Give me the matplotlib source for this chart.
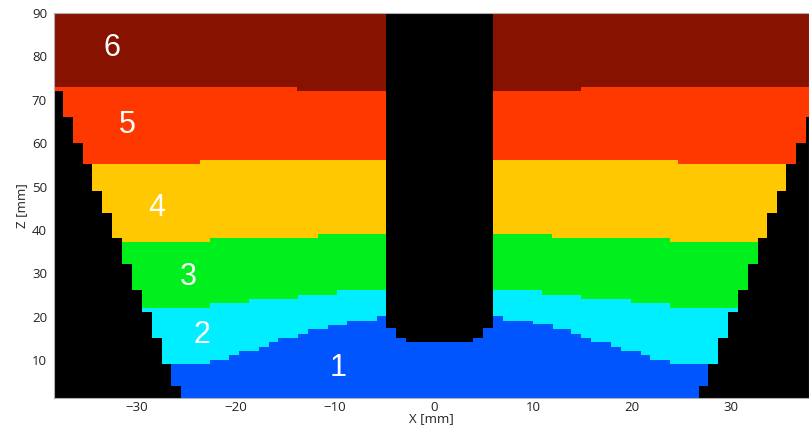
import numpy as np
import matplotlib
matplotlib.use('Agg')
import matplotlib.pyplot as plt
from matplotlib.colors import ListedColormap

# layer colours: 0 = black (wall / electrode), 1..6 = regions
layer_colors = ['#000000', '#0055ff', '#00eeff', '#00f01e', '#ffc800', '#ff3800', '#881200']
layer_names = ['1', '2', '3', '4', '5', '6']

# region boundaries, as step functions over X [mm] -> Z [mm]
b12_x = [-38.4, -22.6, -20.7, -19.7, -17.7, -16.7, -15.7, -13.7, -12.7, -10.7, -8.8, -5.8,
         7.0, 10.0, 12.0, 13.9, 14.9, 15.9, 17.9, 18.9, 20.9, 21.8, 23.8, 38.0]
b12_z = [9.1, 10.0, 11.1, 12.1, 13.1, 14.1, 15.1, 16.1, 17.1, 18.1, 19.1, 20.1,
         19.1, 18.2, 17.1, 16.1, 15.1, 14.1, 13.1, 12.1, 11.1, 10.1, 9.1]
b23_x = [-38.4, -22.6, -18.7, -13.7, -9.8, 10.9, 14.9, 19.9, 23.8, 38.0]
b23_z = [22.0, 23.1, 24.1, 25.1, 26.1, 25.1, 24.1, 23.1, 22.1]
b34_x = [-38.4, -22.6, -11.7, 11.9, 23.8, 38.0]
b34_z = [37.2, 38.1, 39.0, 38.1, 37.2]
b45_x = [-38.4, -23.6, 24.7, 38.0]
b45_z = [55.2, 56.1, 55.2]
b56_x = [-38.4, -13.8, 14.9, 38.0]
b56_z = [72.9, 72.0, 72.9]

# side walls: Z bands and wall edge X for each band
wall_z = [1.2, 4.1, 9.1, 15.1, 21.1, 26.2, 32.1, 38.1, 44.0, 49.0, 55.2, 60.0, 66.0, 72.0]
wall_left_x = [-25.6, -26.6, -27.5, -28.5, -29.5, -30.5, -31.5, -32.5, -33.5, -34.5,
               -35.5, -36.5, -37.5]
wall_right_x = [26.8, 27.7, 28.7, 29.7, 30.7, 31.7, 32.7, 33.7, 34.6, 35.6, 36.6, 37.6, 38.6]

# electrode in the middle: column edges and bottom Z
elec_x = [-4.85, -3.84, -2.83, 3.94, 4.95, 5.96]
elec_bottom = [17.4, 15.1, 14.1, 15.1, 17.4]

x_ticks = [-30, -20, -10, 0, 10, 20, 30]
z_ticks = [10, 20, 30, 40, 50, 60, 70, 80, 90]

xmin, xmax = -38.38, 37.88
zmin, zmax = 1.24, 90.0


def step(edges, values, x):
    edges = np.asarray(edges)
    values = np.asarray(values, dtype=float)
    i = np.clip(np.searchsorted(edges, x, side='right') - 1, 0, len(values) - 1)
    return values[i]


res = 0.04
xs = np.arange(xmin, xmax, res) + res / 2
zs = np.arange(zmin, zmax, res) + res / 2
X, Z = np.meshgrid(xs, zs)

img = np.ones_like(X, dtype=int)
for bx, bz in [(b12_x, b12_z), (b23_x, b23_z), (b34_x, b34_z), (b45_x, b45_z), (b56_x, b56_z)]:
    img += (Z > step(bx, bz, X)).astype(int)

# walls
band = np.searchsorted(wall_z, Z, side='right') - 1
inside = (band >= 0) & (band < len(wall_left_x))
bi = np.clip(band, 0, len(wall_left_x) - 1)
lw = np.array(wall_left_x)[bi]
rw = np.array(wall_right_x)[bi]
img[inside & ((X < lw) | (X > rw))] = 0

# electrode
in_elec = (X >= elec_x[0]) & (X <= elec_x[-1])
img[in_elec & (Z > step(elec_x, elec_bottom, X))] = 0

fig = plt.figure(figsize=(8.09, 4.29), dpi=100)
ax = fig.add_axes([54 / 809, 31 / 429, 1 - 54 / 809, 385 / 429])
ax.imshow(img, origin='lower', extent=[xmin, xmax, zmin, zmax], aspect='auto',
          interpolation='nearest', cmap=ListedColormap(layer_colors), vmin=0, vmax=6)
ax.set_xlim(xmin, xmax)
ax.set_ylim(zmin, zmax)

# region labels
label_pos = [(-9.7, 8.2), (-23.4, 15.8), (-24.8, 29.2), (-28.0, 45.1), (-31.0, 64.2), (-32.5, 81.9)]
for name, (lx, lz) in zip(layer_names, label_pos):
    ax.text(lx, lz, name, color='white', fontsize=22, ha='center', va='center',
            family='Liberation Sans')

ax.set_xticks(x_ticks)
ax.set_yticks(z_ticks)
ax.tick_params(length=0, labelsize=9.5, labelcolor='#222222')
ax.tick_params(axis='x', pad=2)
ax.tick_params(axis='y', pad=5)
for lab in ax.get_xticklabels() + ax.get_yticklabels():
    lab.set_family('Open Sans')
for s in ax.spines.values():
    s.set_color('#b0b0b0')
    s.set_linewidth(0.8)

ax.set_xlabel('X [mm]', fontsize=9.5, family='Open Sans', color='#222222', labelpad=-1)
ax.set_ylabel('Z [mm]', fontsize=9.5, family='Open Sans', color='#222222', labelpad=3)

fig.savefig('out.png', dpi=100)
